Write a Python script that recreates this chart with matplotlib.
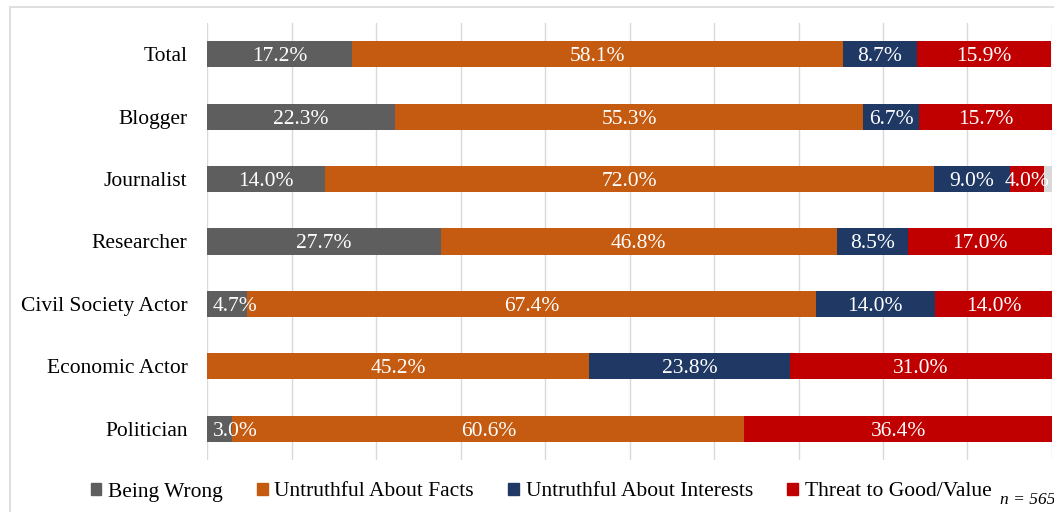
import matplotlib.pyplot as plt
import matplotlib.patches as mpatches
import numpy as np

plt.rcParams['font.family'] = ['Liberation Serif', 'DejaVu Serif']

categories = ['Total', 'Blogger', 'Journalist', 'Researcher', 'Civil Society Actor', 'Economic Actor', 'Politician']
series_names = ['Being Wrong', 'Untruthful About Facts', 'Untruthful About Interests', 'Threat to Good/Value']
being_wrong = [17.2, 22.3, 14.0, 27.7, 4.7, 0.0, 3.0]
facts = [58.1, 55.3, 72.0, 46.8, 67.4, 45.2, 60.6]
interests = [8.7, 6.7, 9.0, 8.5, 14.0, 23.8, 0.0]
threat = [15.9, 15.7, 4.0, 17.0, 14.0, 31.0, 36.4]
other = [0.0, 0.0, 1.0, 0.0, 0.0, 0.0, 0.0]

colors = ['#5e5e5e', '#c55a11', '#1f3864', '#c00000']

fig = plt.figure(figsize=(10.54, 5.12), dpi=100)
ax = fig.add_axes([207 / 1054, 1 - 460 / 512, 845 / 1054, 437 / 512])

y = np.arange(len(categories))
left = np.zeros(len(categories))
for vals, name, col in zip([being_wrong, facts, interests, threat], series_names, colors):
    vals = np.array(vals)
    ax.barh(y, vals, left=left, height=0.42, color=col, label=name, zorder=2)
    for yi, l, v in zip(y, left, vals):
        if v <= 0:
            continue
        cx = l + v / 2
        # keep label inside the plot area like the original
        if cx < 3.0:
            ax.text(0.7, yi, f'{v:.1f}%', ha='left', va='center_baseline',
                    color='white', fontsize=15.5, zorder=3)
        else:
            ax.text(cx, yi, f'{v:.1f}%', ha='center', va='center_baseline',
                    color='white', fontsize=15.5, zorder=3)
    left += vals
ax.barh(y, other, left=left, height=0.42, color='#d9d9d9', zorder=2)

ax.set_xlim(0, 100)
ax.set_ylim(len(categories) - 0.5, -0.5)
ax.set_xticks(np.arange(0, 101, 10))
ax.set_xticklabels([])
ax.grid(axis='x', color='#d9d9d9', linewidth=1, zorder=0)
ax.set_yticks(y)
ax.set_yticklabels(categories, fontsize=15.5)
ax.tick_params(length=0, pad=14)
for s in ax.spines.values():
    s.set_visible(False)

handles = [mpatches.Patch(color=c) for c in colors]
fig.legend(handles, series_names, loc='center', bbox_to_anchor=(541 / 1054, 1 - 492 / 512),
           ncol=4, frameon=False, fontsize=15.5, handlelength=0.5, handleheight=0.5,
           handletextpad=0.3, columnspacing=1.6)
fig.text(1000 / 1054, 1 - 500 / 512, 'n = 565', fontsize=12.5, style='italic', va='center', ha='left')

fig.patches.append(mpatches.Rectangle((10 / 1054, -0.1), 1.2, 1 - 7 / 512 + 0.1, transform=fig.transFigure,
                                      fill=False, edgecolor='#d9d9d9', linewidth=1.2))

fig.savefig('out.png', dpi=100)
